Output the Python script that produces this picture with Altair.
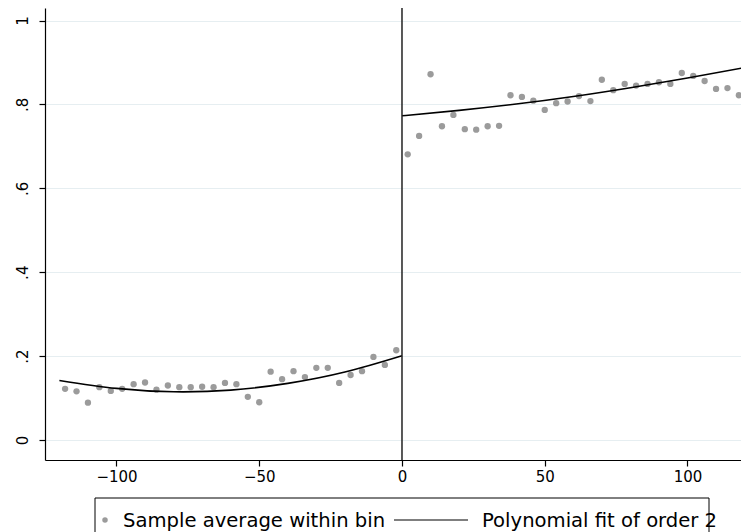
import altair as alt
import pandas as pd

# Binned sample averages
left_x = [-118, -114, -110, -106, -102, -98, -94, -90, -86, -82,
          -78, -74, -70, -66, -62, -58, -54, -50, -46, -42,
          -38, -34, -30, -26, -22, -18, -14, -10, -6, -2]
left_y = [0.122, 0.116, 0.089, 0.126, 0.117, 0.122, 0.133, 0.137, 0.120, 0.130,
          0.126, 0.126, 0.127, 0.126, 0.136, 0.133, 0.103, 0.090, 0.163, 0.145,
          0.164, 0.150, 0.172, 0.172, 0.136, 0.155, 0.164, 0.198, 0.179, 0.214]
right_x = [2, 6, 10, 14, 18, 22, 26, 30, 34, 38,
           42, 46, 50, 54, 58, 62, 66, 70, 74, 78,
           82, 86, 90, 94, 98, 102, 106, 110, 114, 118]
right_y = [0.681, 0.725, 0.872, 0.748, 0.775, 0.741, 0.740, 0.748, 0.749, 0.822,
           0.818, 0.809, 0.787, 0.803, 0.807, 0.820, 0.808, 0.859, 0.834, 0.849,
           0.845, 0.849, 0.853, 0.849, 0.875, 0.868, 0.856, 0.837, 0.839, 0.822]

# Polynomial fit curves
fit_left_x = [-120, -100, -80, -60, -40, -20, 0]
fit_left_y = [0.142, 0.123, 0.115, 0.119, 0.135, 0.162, 0.201]
fit_right_x = [0, 20, 40, 60, 80, 100, 120]
fit_right_y = [0.773, 0.786, 0.801, 0.819, 0.840, 0.863, 0.888]

y_ticks = [0, 0.2, 0.4, 0.6, 0.8, 1]
x_ticks = [-100, -50, 0, 50, 100]

legend_points = "Sample average within bin"
legend_line = "Polynomial fit of order 2"

pts = pd.DataFrame({"x": left_x + right_x, "y": left_y + right_y})
fit = pd.DataFrame({
    "x": fit_left_x + fit_right_x,
    "y": fit_left_y + fit_right_y,
    "side": ["left"] * len(fit_left_x) + ["right"] * len(fit_right_x),
})

FONT = "DejaVu Sans"
W, H = 696, 452

xscale = alt.Scale(domain=[-125.04, 118.74], nice=False, zero=False)
yscale = alt.Scale(domain=[-0.0477, 1.03], nice=False, zero=False)

xaxis = alt.Axis(values=x_ticks, title=None, grid=False, labelFontSize=15,
                 labelFont=FONT, labelColor="black", tickSize=6,
                 tickColor="black", domainColor="black", labelPadding=3,
                 labelFlush=False)
yaxis = alt.Axis(values=y_ticks, title=None, grid=True, gridColor="#e6eef1",
                 gridWidth=1, labelFontSize=15, labelFont=FONT,
                 labelColor="black", tickSize=6, tickColor="black",
                 domainColor="black", labelAngle=270, labelAlign="center",
                 labelBaseline="alphabetic", labelPadding=12,
                 labelExpr="datum.value == 0 ? '0' : (datum.value == 1 ? '1' : '.' + round(datum.value * 10))")

points = alt.Chart(pts).mark_circle(size=40, color="#9b9b9b", opacity=1).encode(
    x=alt.X("x:Q", scale=xscale, axis=xaxis),
    y=alt.Y("y:Q", scale=yscale, axis=yaxis),
)

fitline = alt.Chart(fit).mark_line(color="black", strokeWidth=1.6,
                                   interpolate="natural").encode(
    x=alt.X("x:Q", scale=xscale),
    y=alt.Y("y:Q", scale=yscale),
    detail="side:N",
)

vline = alt.Chart(alt.Data(values=[{}])).mark_rule(color="#222222", strokeWidth=1.5).encode(
    x=alt.datum(0, scale=xscale),
)

LEG_MID = 512
LEG_BASE = 519
LEG_FS = 19.6
one = alt.Data(values=[{}])
leg_box = alt.Chart(one).mark_rect(fill="white", stroke="black", strokeWidth=1).encode(
    x=alt.value(50), x2=alt.value(664), y=alt.value(490), y2=alt.value(560))
leg_pt = alt.Chart(one).mark_circle(size=30, color="#9b9b9b", opacity=1).encode(
    x=alt.value(60), y=alt.value(LEG_MID))
leg_txt1 = alt.Chart(one).mark_text(align="left", baseline="alphabetic", fontSize=LEG_FS,
                                    font=FONT, color="black").encode(
    x=alt.value(78), y=alt.value(LEG_BASE), text=alt.value(legend_points))
leg_line = alt.Chart(one).mark_rule(color="black", strokeWidth=1.2).encode(
    x=alt.value(349), x2=alt.value(423), y=alt.value(LEG_MID))
leg_txt2 = alt.Chart(one).mark_text(align="left", baseline="alphabetic", fontSize=LEG_FS,
                                    font=FONT, color="black").encode(
    x=alt.value(437), y=alt.value(LEG_BASE), text=alt.value(legend_line))

chart = alt.layer(points, fitline, vline, leg_box, leg_pt, leg_txt1, leg_line, leg_txt2).properties(
    width=W, height=H,
    autosize=alt.AutoSizeParams(type="none"),
    padding={"left": 37, "top": 0, "right": 0, "bottom": 72},
).configure_view(stroke=None).configure_axis(domainWidth=1.2, tickWidth=1.2)

chart.save("out.html", embed_options={"renderer": "svg", "actions": False})
